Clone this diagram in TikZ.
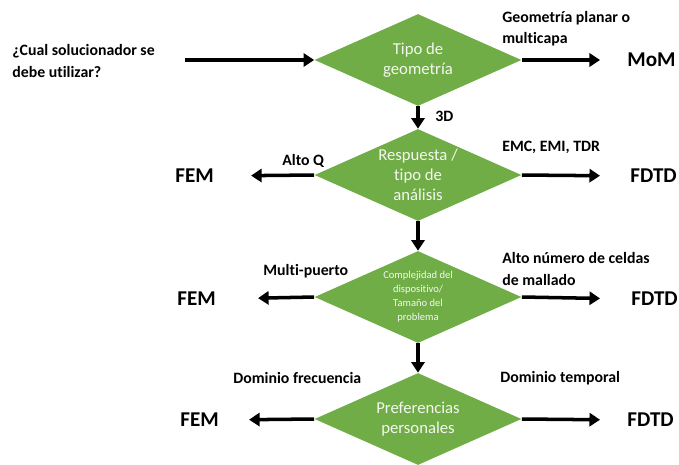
\documentclass[tikz,border=0pt]{standalone}
\usepackage{fontspec}
\setmainfont{Carlito}[Ligatures=NoCommon]
\usetikzlibrary{shapes.geometric,arrows.meta}
\definecolor{boxgreen}{HTML}{70AD47}

\begin{document}
\begin{tikzpicture}[
            x=0.02cm, y=-0.02cm,
            decision/.style={
                diamond,
                aspect=2.2,
                fill=boxgreen,
                text=white!92!boxgreen,
                minimum width=4.14cm,
                minimum height=1.84cm,
                inner sep=-3pt,
                align=center,
                font=\fontsize{9.5}{11.5}\selectfont
            },
            result/.style={
                anchor=west,
                inner sep=0pt,
                font=\fontsize{12}{14}\selectfont\bfseries
            },
            cond/.style={
                anchor=west,
                inner sep=0pt,
                align=left,
                font=\fontsize{9}{12}\selectfont\bfseries
            },
            flow/.style={
                line width=2pt,
                -{Triangle[length=6pt,width=7.5pt]}
            }
        ]
            \useasboundingbox (0,0) rectangle (679,464);

            % decisions
            \node[decision] (d1) at (418,60) {Tipo de\\geometría};
            \node[decision] (d2) at (418,175) {Respuesta /\\tipo de\\análisis};
            \node[decision, font=\fontsize{6}{8}\selectfont] (d3) at (418,297)
                {Complejidad del\\dispositivo/\\Tamaño del\\problema};
            \node[decision] (d4) at (418,419) {Preferencias\\personales};

            % question
            \node[cond] (q) at (12,61) {¿Cual solucionador se\\debe utilizar?};
            \coordinate (start) at (185,60);

            % results
            \foreach \n/\t/\x/\y in {
                mom/MoM/627/60,
                fem2/FEM/175/176,
                fdtd2/FDTD/630/176,
                fem3/FEM/177/299,
                fdtd3/FDTD/631/299,
                fem4/FEM/180/420,
                fdtd4/FDTD/627/420
            } {
                \node[result] (\n) at (\x,\y) {\t};
            }

            % branch labels
            \node[cond] (c1) at (502,29) {Geometría planar o\\multicapa};
            \node[cond] (c2) at (435,116) {3D};
            \node[cond] (c3) at (282,161) {Alto Q};
            \node[cond] (c4) at (502,147) {EMC, EMI, TDR};
            \node[cond] (c5) at (263,271) {Multi-puerto};
            \node[cond] (c6) at (502,269) {Alto número de celdas\\de mallado};
            \node[cond] (c7) at (233,378) {Dominio frecuencia};
            \node[cond] (c8) at (500,378) {Dominio temporal};

            % connectors
            \draw[flow] (start) -- (d1.west);
            \foreach \a/\b in {d1/d2, d2/d3, d3/d4}
                \draw[flow] (\a.south) -- (\b.north);
            \foreach \a/\b/\g in {
                d1.east/mom.west/0.54cm,
                d2.west/fem2.east/0.74cm,
                d2.east/fdtd2.west/0.6cm,
                d3.west/fem3.east/0.84cm,
                d3.east/fdtd3.west/0.62cm,
                d4.west/fem4.east/0.6cm,
                d4.east/fdtd4.west/0.54cm
            }
                \draw[flow, shorten >=\g] (\a) -- (\b);
        \end{tikzpicture}
\end{document}
